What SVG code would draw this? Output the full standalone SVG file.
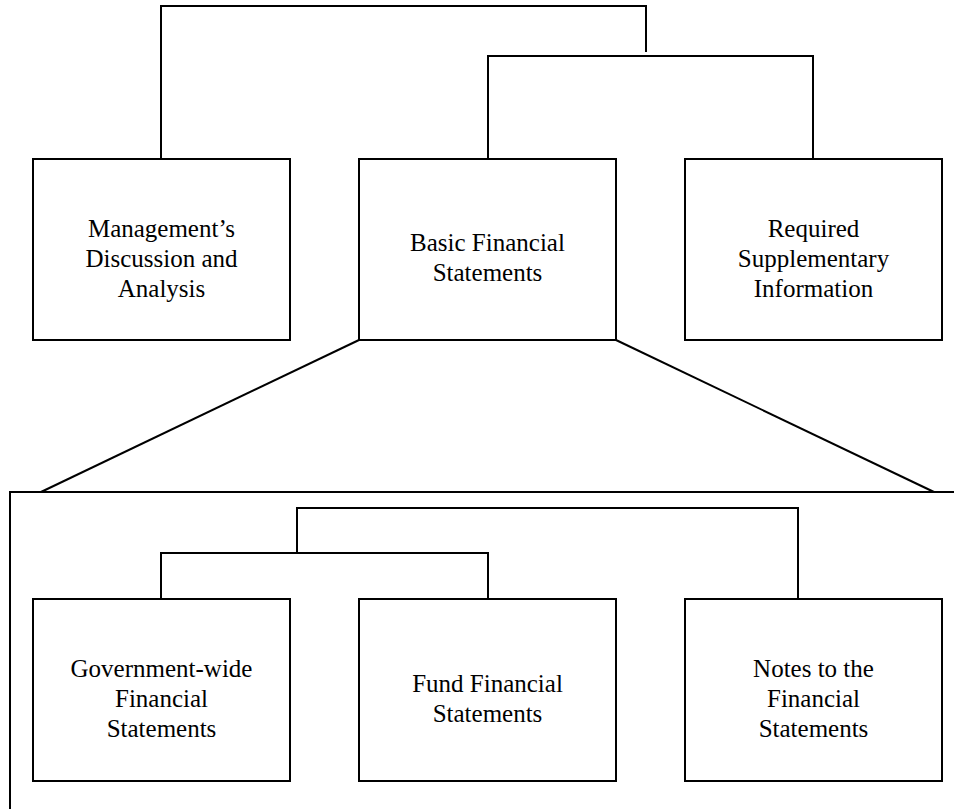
<svg xmlns="http://www.w3.org/2000/svg" width="954" height="809" viewBox="0 0 954 809">
<style>
.box{fill:#fff;stroke:#000;stroke-width:2}
.ln{fill:none;stroke:#000;stroke-width:2}
.t{font-size:25px;fill:#000;text-anchor:middle}
</style>
<rect width="954" height="809" fill="#fff"/>
<g id="connectors">
<polyline class="ln" points="161,159 161,6 646,6 646,52"/>
<polyline class="ln" points="488,159 488,56 813,56 813,159"/>
<line class="ln" x1="359" y1="340" x2="41" y2="492"/>
<line class="ln" x1="616" y1="340" x2="934" y2="492"/>
<polyline class="ln" points="161,599 161,553 488,553 488,599"/>
<polyline class="ln" points="297,553 297,508 798,508 798,599"/>
</g>
<g id="container">
<polyline class="ln" points="10,809 10,492 956,492"/>
</g>
<g font-family="Liberation Serif, DejaVu Serif, serif">
<g id="mda">
<rect class="box" x="33" y="159" width="257" height="181"/>
<text class="t" x="161.5" y="237">Management’s</text>
<text class="t" x="161.5" y="267">Discussion and</text>
<text class="t" x="161.5" y="297">Analysis</text>
</g>
<g id="bfs">
<rect class="box" x="359" y="159" width="257" height="181"/>
<text class="t" x="487.5" y="251">Basic Financial</text>
<text class="t" x="487.5" y="281">Statements</text>
</g>
<g id="rsi">
<rect class="box" x="685" y="159" width="257" height="181"/>
<text class="t" x="813.5" y="237">Required</text>
<text class="t" x="813.5" y="267">Supplementary</text>
<text class="t" x="813.5" y="297">Information</text>
</g>
<g id="gwfs">
<rect class="box" x="33" y="599" width="257" height="182"/>
<text class="t" x="161.5" y="677">Government-wide</text>
<text class="t" x="161.5" y="707">Financial</text>
<text class="t" x="161.5" y="737">Statements</text>
</g>
<g id="ffs">
<rect class="box" x="359" y="599" width="257" height="182"/>
<text class="t" x="487.5" y="692">Fund Financial</text>
<text class="t" x="487.5" y="722">Statements</text>
</g>
<g id="notes">
<rect class="box" x="685" y="599" width="257" height="182"/>
<text class="t" x="813.5" y="677">Notes to the</text>
<text class="t" x="813.5" y="707">Financial</text>
<text class="t" x="813.5" y="737">Statements</text>
</g>
</g>
</svg>
